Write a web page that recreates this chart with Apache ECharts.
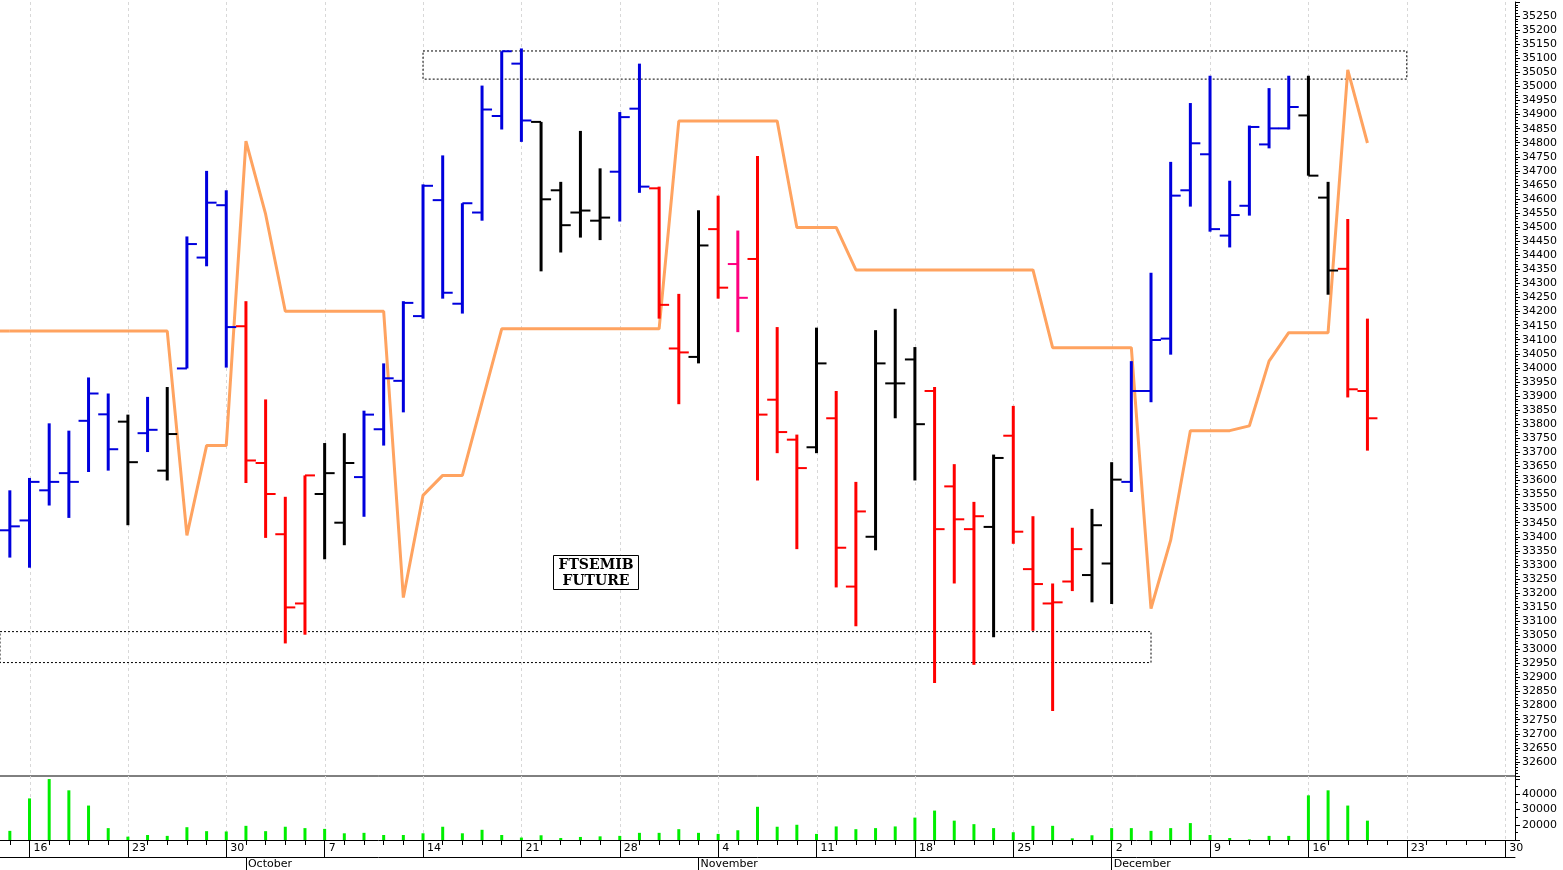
<!DOCTYPE html>
<html>
<head>
<meta charset="utf-8">
<script src="https://cdn.jsdelivr.net/npm/echarts@6/dist/echarts.min.js"></script>
<style>
html,body{margin:0;padding:0;background:#fff;}
#main{width:1563px;height:870px;}
</style>
</head>
<body>
<div id="main"></div>
<script>
// bars: open, high, low, close (FTSEMIB future, daily)
var opens  = [33423,33458,33565,33626,33812,33835,33809,33768,33635,33998,34392,34578,34148,33662,33409,33163,33552,33450,33612,33782,
              33954,34184,34596,34228,34552,34895,35081,34874,34631,34552,34523,34697,34921,34638,34069,34039,34493,34369,34387,33887,
              33745,33718,33821,33223,33400,33945,34030,33918,33579,33427,33435,33759,33285,33163,33241,33264,33305,33595,33918,34104,
              34631,34759,34470,34576,34794,34851,34897,34605,34352,33918];
var highs  = [33565,33609,33803,33777,33966,33909,33834,33897,33932,34467,34700,34631,34237,33888,33542,33618,33733,33768,33848,34016,
              34237,34652,34755,34585,35003,35125,35135,34874,34661,34842,34709,34909,35081,34644,34263,34560,34612,34488,34753,34145,
              33763,34143,33918,33595,34134,34210,34074,33932,33658,33524,33692,33865,33473,33234,33432,33499,33665,34024,34338,34732,
              34941,35038,34665,34861,34994,35038,35038,34661,34529,34175];
var lows   = [33326,33290,33511,33467,33630,33635,33441,33701,33600,33998,34361,34001,33591,33396,33021,33052,33320,33370,33471,33724,
              33842,34175,34246,34193,34523,34847,34803,34343,34410,34463,34454,34520,34622,34175,33871,34016,34246,34127,33600,33697,
              33356,33697,33220,33082,33352,33821,33600,32880,33234,32945,33043,33375,33066,32781,33207,33167,33161,33559,33878,34047,
              34573,34484,34428,34541,34780,34847,34683,34260,33895,33706];
var closes = [33437,33595,33595,33595,33909,33711,33665,33780,33765,34440,34587,34145,33671,33552,33149,33618,33626,33662,33834,33963,
              34231,34647,34267,34585,34918,35125,34879,34599,34507,34559,34534,34891,34644,34224,34055,34435,34285,34249,33834,33772,
              33644,34016,33361,33490,34016,33945,33800,33427,33462,33473,33680,33418,33232,33167,33356,33441,33603,33918,34099,34612,
              34798,34493,34543,34856,34851,34927,34683,34346,33924,33821];
// b = blue, r = red, k = black, m = magenta
var barColors = ['b','b','b','b','b','b','k','b','k','b','b','b','r','r','r','r','k','k','b','b',
                 'b','b','b','b','b','b','b','k','k','k','k','b','b','r','r','k','r','m','r','r',
                 'r','k','r','r','k','k','k','r','r','r','k','r','r','r','r','k','k','b','b','b',
                 'b','b','b','b','b','b','k','k','r','r'];
var orangeLine = [34131,34131,34131,34131,34131,34131,34131,34131,34131,33405,33724,33724,34806,34546,34201,34201,34201,34201,34201,34201,
                  33184,33547,33618,33618,33878,34139,34139,34139,34139,34139,34139,34139,34139,34139,34877,34877,34877,34877,34877,34877,
                  34499,34499,34499,34348,34348,34348,34348,34348,34348,34348,34348,34348,34348,34072,34072,34072,34072,34072,33145,33388,
                  33777,33777,33777,33794,34024,34125,34125,34125,35059,34799];
var volumes = [16000,37300,50000,42600,32600,17800,12200,13300,12700,18400,15800,15600,19300,15800,18700,17800,17300,14400,14700,13300,
               13300,14400,18700,14400,16700,13300,11600,13100,11300,12000,12400,12700,14700,14700,17100,14700,14000,16400,31800,18700,
               20000,14000,18900,17100,17800,18900,24700,29300,22700,20400,17800,15100,19300,19300,11100,13100,17800,17800,16000,17800,
               21100,13300,11300,10400,12700,12700,39300,42600,32600,22700];
var topZone = [21, 71, 35126, 35026];     // from bar, to bar, upper, lower
var bottomZone = [-1, 58, 33063, 32953];
var monthNames = ['January','February','March','April','May','June','July','August','September','October','November','December'];

// trading-day categories, 13 Sep 2024 .. 30 Dec 2024
var days = [];
var d = new Date(2024, 8, 13);
while (d <= new Date(2024, 11, 30)) {
    if (d.getDay() !== 0 && d.getDay() !== 6) days.push(new Date(d.getTime()));
    d.setDate(d.getDate() + 1);
}
var cats = days.map(function(x){ return x.getFullYear()+'-'+(x.getMonth()+1)+'-'+x.getDate(); });
function isMonday(i){ return days[i].getDay() === 1; }
function isMonthStart(i){ return i > 0 && days[i].getMonth() !== days[i-1].getMonth(); }
var mondays = [];
for (var i = 0; i < days.length; i++) { if (isMonday(i)) mondays.push(i); }

var colorMap = {b:'#0000dd', r:'#ff0000', k:'#000000', m:'#ff0080'};
var ohlc = opens.map(function(o, i){ return [i, o, highs[i], lows[i], closes[i]]; });

// dashed vertical line at every Monday
function mondayLines(params, api){
    var cs = params.coordSys;
    var kids = mondays.map(function(m){
        var x = Math.round(api.coord([m, 0])[0]) + 0.5;
        return {type:'line', shape:{x1:x, y1:cs.y, x2:x, y2:cs.y+cs.height},
                style:{stroke:'#d8d8d8', lineWidth:1, lineDash:[3,3]}};
    });
    return {type:'group', children:kids};
}

var myChart = echarts.init(document.getElementById('main'));
var font = 'DejaVu Sans';
var option = {
    animation: false,
    backgroundColor: '#fff',
    grid: [
        {left: 0, width: 1515, top: 2, height: 774},
        {left: 0, width: 1515, top: 776, height: 64}
    ],
    xAxis: [
        {type:'category', gridIndex:0, data:cats, boundaryGap:true,
         axisLine:{show:false}, axisTick:{show:false}, axisLabel:{show:false}, splitLine:{show:false}},
        {type:'category', gridIndex:1, data:cats, boundaryGap:true,
         axisLine:{show:true, lineStyle:{color:'#000', width:1}},
         axisTick:{show:true, alignWithLabel:true, interval:0, length:5, lineStyle:{color:'#000'}},
         axisLabel:{show:false}, splitLine:{show:false}},
        {type:'category', gridIndex:1, data:cats, boundaryGap:true, position:'bottom',
         axisLine:{show:false},
         axisTick:{show:true, alignWithLabel:true, interval:function(i){return isMonday(i);}, length:17, lineStyle:{color:'#000'}},
         axisLabel:{show:true, interval:function(i){return isMonday(i);}, align:'left', margin:3, padding:[0,0,0,4],
                    fontFamily:font, fontSize:11, color:'#000',
                    formatter:function(v){ return String(Number(v.split('-')[2])); }}},
        {type:'category', gridIndex:1, data:cats, boundaryGap:true, position:'bottom', offset:17,
         axisLine:{show:true, lineStyle:{color:'#000', width:1}},
         axisTick:{show:true, alignWithLabel:true, interval:function(i){return isMonthStart(i);}, length:14, lineStyle:{color:'#000'}},
         axisLabel:{show:true, interval:function(i){return isMonthStart(i);}, align:'left', margin:2, padding:[0,0,0,2],
                    fontFamily:font, fontSize:11, color:'#000',
                    formatter:function(v){ return monthNames[Number(v.split('-')[1])-1]; }}}
    ],
    yAxis: [
        {type:'value', gridIndex:0, position:'right', min:32550, max:35300, interval:50,
         axisLine:{show:true, lineStyle:{color:'#000'}},
         axisTick:{show:true, length:5, lineStyle:{color:'#000'}},
         minorTick:{show:true, splitNumber:5, length:3, lineStyle:{color:'#000'}},
         axisLabel:{showMinLabel:false, showMaxLabel:false, margin:7, fontFamily:font, fontSize:11, color:'#000',
                    formatter:function(v){ return String(v); }},
         splitLine:{show:false}},
        {type:'value', gridIndex:1, position:'right', min:10000, max:52000, interval:10000,
         axisLine:{show:true, lineStyle:{color:'#000'}},
         axisTick:{show:true, length:5, lineStyle:{color:'#000'}},
         minorTick:{show:true, splitNumber:2, length:3, lineStyle:{color:'#000'}},
         axisLabel:{margin:7, fontFamily:font, fontSize:11, color:'#000',
                    formatter:function(v){ return (v >= 20000 && v <= 40000) ? String(v) : ''; }},
         splitLine:{show:false}}
    ],
    series: [
        {type:'custom', name:'grid0', xAxisIndex:0, yAxisIndex:0, data:[[0]], z:0, renderItem:mondayLines, silent:true},
        {type:'custom', name:'grid1', xAxisIndex:1, yAxisIndex:1, data:[[0]], z:0, renderItem:mondayLines, silent:true},
        {type:'custom', name:'zones', xAxisIndex:0, yAxisIndex:0, data:[[0]], z:1,
         renderItem:function(params, api){
             function rect(z, fromLeft){
                 var p1 = api.coord([Math.max(z[0],0), z[2]]);
                 var p2 = api.coord([z[1], z[3]]);
                 var x1 = fromLeft ? params.coordSys.x : p1[0];
                 return {type:'rect', shape:{x:x1, y:p1[1], width:p2[0]-x1, height:p2[1]-p1[1]},
                         style:{fill:null, stroke:'#000', lineWidth:1, lineDash:[2,2]}};
             }
             // carry the trend line to the left edge
             var s = api.coord([0, orangeLine[0]]);
             return {type:'group', children:[rect(topZone,false), rect(bottomZone,true),
                 {type:'line', shape:{x1:params.coordSys.x, y1:s[1], x2:s[0], y2:s[1]}, style:{stroke:'#ffa360', lineWidth:3}}]};
         }},
        {type:'line', name:'trend', xAxisIndex:0, yAxisIndex:0, data:orangeLine, symbol:'none', z:3,
         lineStyle:{color:'#ffa360', width:3}},
        {type:'custom', name:'bars', xAxisIndex:0, yAxisIndex:0, data:ohlc, z:4,
         renderItem:function(params, api){
             var i = api.value(0);
             var pO = api.coord([i, api.value(1)]);
             var pH = api.coord([i, api.value(2)]);
             var pL = api.coord([i, api.value(3)]);
             var pC = api.coord([i, api.value(4)]);
             var col = colorMap[barColors[params.dataIndex]];
             return {type:'group', children:[
                 {type:'line', shape:{x1:pH[0], y1:pH[1], x2:pL[0], y2:pL[1]}, style:{stroke:col, lineWidth:3}},
                 {type:'line', shape:{x1:pO[0]-10, y1:pO[1], x2:pO[0], y2:pO[1]}, style:{stroke:col, lineWidth:2}},
                 {type:'line', shape:{x1:pC[0], y1:pC[1], x2:pC[0]+10, y2:pC[1]}, style:{stroke:col, lineWidth:2}}
             ]};
         }},
        {type:'bar', name:'volume', xAxisIndex:1, yAxisIndex:1, data:volumes, barWidth:3,
         itemStyle:{color:'#00ee00'}}
    ],
    graphic: [
        {type:'line', shape:{x1:0, y1:776, x2:1515, y2:776}, style:{stroke:'#000', lineWidth:1}},
        {type:'rect', left:553, top:555, shape:{width:85, height:34}, style:{fill:'#fff', stroke:'#000', lineWidth:1}, z:10},
        {type:'text', x:596, y:557, z:11,
         style:{text:'FTSEMIB\nFUTURE', fill:'#000', font:'bold 14px "DejaVu Serif"', lineHeight:16, align:'center', verticalAlign:'top'}}
    ]
};
myChart.setOption(option);
</script>
</body>
</html>
